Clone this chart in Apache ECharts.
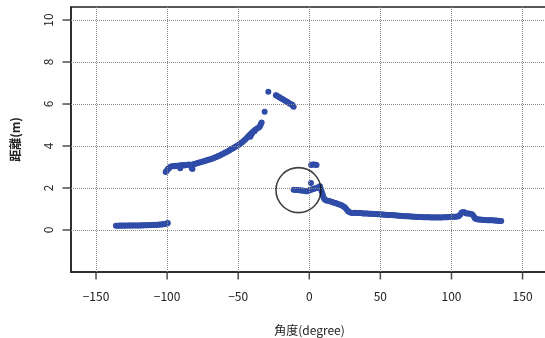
<!DOCTYPE html>
<html>
<head>
<meta charset="utf-8">
<script src="https://cdn.jsdelivr.net/npm/echarts@6/dist/echarts.min.js"></script>
<style>
  html, body { margin: 0; padding: 0; background: #fff; }
  #chart { width: 545px; height: 338px; }
</style>
</head>
<body>
<div id="chart"></div>
<script>
// 角度(degree) / 距離(m) pairs
var floorLeft = [
  [-136, 0.20], [-135, 0.20], [-134, 0.20], [-133, 0.21], [-132, 0.20], [-131, 0.21],
  [-130, 0.21], [-129, 0.20], [-128, 0.21], [-127, 0.21], [-126, 0.21], [-125, 0.21],
  [-124, 0.22], [-123, 0.21], [-122, 0.22], [-121, 0.22], [-120, 0.22], [-119, 0.22],
  [-118, 0.23], [-117, 0.22], [-116, 0.23], [-115, 0.23], [-114, 0.23], [-113, 0.24],
  [-112, 0.23], [-111, 0.24], [-110, 0.24], [-109, 0.25], [-108, 0.24], [-107, 0.25],
  [-106, 0.25], [-105, 0.26], [-104, 0.26], [-103, 0.27], [-102, 0.28], [-101, 0.30],
  [-100, 0.31], [-99.5, 0.33]
];
var wallLeft = [
  [-101, 2.76], [-100.5, 2.80], [-100, 2.85], [-99.5, 2.90], [-99, 2.92], [-98.5, 2.96],
  [-98, 3.00], [-97, 3.02], [-96, 3.05], [-95, 3.04], [-94, 3.06], [-93, 3.05],
  [-92, 3.07], [-91, 3.06], [-90.8, 2.94], [-90, 3.08], [-89, 3.10], [-88, 3.07],
  [-87, 3.09], [-86, 3.10], [-85, 3.12], [-84, 3.11], [-83, 3.10], [-82.7, 2.94],
  [-82.2, 2.90], [-82, 3.12], [-81, 3.14], [-80, 3.16], [-79, 3.18], [-78, 3.20],
  [-77, 3.22], [-76, 3.24], [-75, 3.26], [-74, 3.28], [-73, 3.30], [-72, 3.32],
  [-71, 3.34], [-70, 3.36], [-69, 3.38], [-68, 3.40], [-67, 3.43], [-66, 3.46],
  [-65, 3.49], [-64, 3.52], [-63, 3.55], [-62, 3.58], [-61, 3.62], [-60, 3.65],
  [-59, 3.69], [-58, 3.72], [-57, 3.76], [-56, 3.80], [-55, 3.84], [-54, 3.88],
  [-53, 3.92], [-52, 3.96], [-51, 4.00], [-50, 4.04], [-49, 4.09], [-48, 4.14],
  [-47, 4.19], [-46, 4.25], [-45, 4.31], [-44, 4.38], [-43, 4.45], [-42, 4.52],
  [-41.5, 4.44], [-41, 4.60], [-40.5, 4.56], [-40, 4.66], [-39, 4.72], [-38.5, 4.70],
  [-38, 4.78], [-37, 4.82], [-36, 4.86], [-35, 4.90], [-34.5, 4.98], [-34, 5.05],
  [-33.5, 5.12]
];
var farPoints = [
  [-31.4, 5.63], [-28.8, 6.58],
  [-23.5, 6.42], [-23, 6.40], [-22, 6.36], [-21, 6.32], [-20, 6.28], [-19, 6.24],
  [-18, 6.20], [-17, 6.16], [-16, 6.12], [-15, 6.08], [-14, 6.03], [-13, 6.00],
  [-12, 5.96], [-11.5, 5.91], [-11, 5.87]
];
var nearObstacle = [
  [-11, 1.92], [-10, 1.91], [-9, 1.90], [-8, 1.90], [-7, 1.89], [-6, 1.88],
  [-5, 1.88], [-4, 1.87], [-3, 1.86], [-2, 1.85], [-1.5, 1.84], [-1, 1.86],
  [0, 1.88], [0.5, 1.92], [1.2, 2.24], [1.5, 1.92], [2.5, 1.95], [3.5, 1.97],
  [4.5, 1.99], [5.2, 2.00], [6.2, 2.04], [7.5, 2.08], [8.2, 1.95], [8.7, 1.84],
  [9.3, 1.72], [9.8, 1.60], [10.4, 1.50], [11, 1.44], [12, 1.41], [13, 1.39],
  [14, 1.38], [15, 1.36], [16, 1.33], [17, 1.31], [18, 1.29], [19, 1.27],
  [20, 1.24], [21, 1.22], [22, 1.20], [23, 1.17], [24, 1.12], [25, 1.08],
  [26, 1.00], [27, 0.92], [27.5, 0.88], [28.5, 0.84], [29.8, 0.81], [31, 0.81],
  [32, 0.82], [33, 0.81], [34, 0.81], [35, 0.81], [36, 0.81], [37, 0.80]
];
var blobTop = [[1.3, 3.10], [2.3, 3.12], [3.3, 3.12], [4.3, 3.11], [5.1, 3.10]];
var floorRight = [
  [38, 0.79], [39, 0.79], [40, 0.78], [41, 0.78], [42, 0.77], [43, 0.77],
  [44, 0.77], [45, 0.76], [46, 0.76], [47, 0.76], [48, 0.75], [49, 0.75],
  [50, 0.75], [51, 0.74], [52, 0.74], [53, 0.73], [54, 0.73], [55, 0.72],
  [56, 0.72], [57, 0.71], [58, 0.71], [59, 0.70], [60, 0.70], [61, 0.69],
  [62, 0.69], [63, 0.68], [64, 0.68], [65, 0.67], [66, 0.67], [67, 0.66],
  [68, 0.66], [69, 0.65], [70, 0.65], [71, 0.64], [72, 0.64], [73, 0.63],
  [74, 0.63], [75, 0.63], [76, 0.62], [77, 0.62], [78, 0.62], [79, 0.62],
  [80, 0.61], [81, 0.61], [82, 0.61], [83, 0.61], [84, 0.61], [85, 0.61],
  [86, 0.60], [87, 0.60], [88, 0.61], [89, 0.60], [90, 0.60], [91, 0.61],
  [92, 0.60], [93, 0.60], [94, 0.61], [95, 0.61], [96, 0.61], [97, 0.61],
  [98, 0.62], [99, 0.62], [100, 0.62], [101, 0.63], [102, 0.63], [103, 0.63],
  [104, 0.64], [105, 0.65], [106, 0.72], [107, 0.82], [108, 0.86], [109, 0.84],
  [110, 0.80], [111, 0.79], [112, 0.78], [113, 0.77], [114, 0.76], [115, 0.72],
  [116, 0.62], [116.5, 0.56], [117, 0.53], [118, 0.51], [119, 0.50], [120, 0.50],
  [121, 0.49], [122, 0.49], [123, 0.48], [124, 0.48], [125, 0.47], [126, 0.47],
  [127, 0.46], [128, 0.46], [129, 0.46], [130, 0.45], [131, 0.45], [132, 0.44],
  [133, 0.44], [134, 0.43], [135, 0.43]
];
var circleMark = [[-7.6, 1.9]];

var xTicks = [-150, -100, -50, 0, 50, 100, 150];
var yTicks = [0, 2, 4, 6, 8, 10];

var X_MIN = -167.6, X_MAX = 167.9, Y_MIN = -2, Y_MAX = 10.62;

var chart = echarts.init(document.getElementById('chart'));
var font = '"Noto Sans CJK JP", "Noto Sans", sans-serif';
var blue = '#2f4ca8';
var ink = '#222';

function dots(data) {
  return {
    type: 'scatter',
    data: data,
    symbolSize: 6,
    itemStyle: { color: blue, opacity: 1 },
    silent: true
  };
}

var option = {
  animation: false,
  backgroundColor: '#fff',
  grid: {
    left: 71, top: 7, bottom: 66, right: -3,
    outerBoundsMode: 'none',
    show: true, borderColor: ink, borderWidth: 1.5, backgroundColor: 'transparent'
  },
  xAxis: {
    type: 'value',
    min: X_MIN, max: X_MAX,
    name: '角度(degree)',
    nameLocation: 'middle',
    nameGap: 52,
    nameTextStyle: { fontFamily: font, fontSize: 12, color: ink },
    axisLine: { show: true, onZero: false, lineStyle: { color: ink, width: 1.5 } },
    axisTick: { show: false },
    axisLabel: { customValues: xTicks, interval: 0, margin: 18, fontFamily: font, fontSize: 12, color: ink,
      formatter: function (v) { return v < 0 ? '\u2212' + Math.abs(v) : String(v); } },
    splitLine: { show: false }
  },
  yAxis: {
    type: 'value',
    min: Y_MIN, max: Y_MAX,
    name: '距離(m)',
    nameLocation: 'middle',
    nameGap: 50,
    nameRotate: 90,
    nameTextStyle: { fontFamily: font, fontSize: 12, fontWeight: 'bold', color: ink },
    axisLine: { show: true, onZero: false, lineStyle: { color: ink, width: 1.5 } },
    axisTick: { show: false },
    axisLabel: { customValues: yTicks, interval: 0, rotate: 90, margin: 17, fontFamily: font, fontSize: 12, color: ink },
    splitLine: { show: false }
  },
  series: [
    {
      // dotted grid lines at the tick values
      type: 'line',
      data: [],
      silent: true,
      markLine: {
        symbol: 'none',
        silent: true,
        label: { show: false },
        lineStyle: { type: 'dotted', color: '#8a8a8a', width: 1 },
        data: xTicks.map(function (v) { return { xAxis: v }; })
          .concat(yTicks.map(function (v) { return { yAxis: v }; }))
      },
      z: 1
    },
    {
      // outside tick marks on the angle axis
      type: 'scatter',
      data: xTicks.map(function (v) { return [v, Y_MIN]; }),
      symbol: 'rect',
      symbolSize: [1.5, 7],
      symbolOffset: [0, 4],
      clip: false,
      itemStyle: { color: ink },
      silent: true,
      z: 6
    },
    {
      // outside tick marks on the distance axis
      type: 'scatter',
      data: yTicks.map(function (v) { return [X_MIN, v]; }),
      symbol: 'rect',
      symbolSize: [8, 1.5],
      symbolOffset: [-4.5, 0],
      clip: false,
      itemStyle: { color: ink },
      silent: true,
      z: 6
    },
    dots(floorLeft),
    dots(wallLeft),
    dots(farPoints),
    dots(nearObstacle),
    dots(blobTop),
    dots(floorRight),
    {
      type: 'scatter',
      data: circleMark,
      symbol: 'circle',
      symbolSize: 45,
      itemStyle: { color: 'transparent', borderColor: '#111', borderWidth: 1.6 },
      silent: true,
      z: 5
    }
  ]
};

chart.setOption(option);
</script>
</body>
</html>
